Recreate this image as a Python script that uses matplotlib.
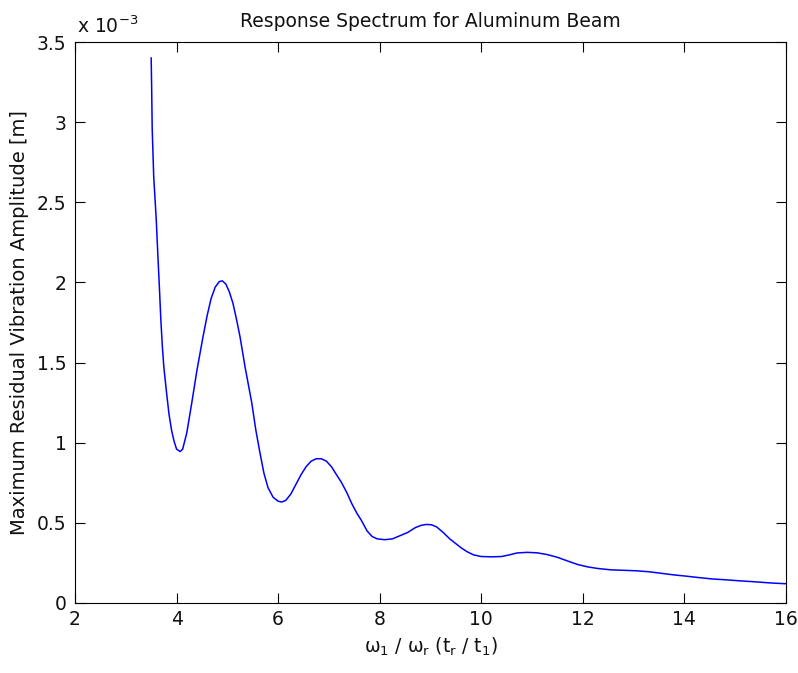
import matplotlib
matplotlib.use("Agg")
import matplotlib.pyplot as plt

# frequency ratio (x) and max residual amplitude in units of 1e-3 m (y)
freq_ratio = [3.50, 3.51, 3.52, 3.55, 3.58, 3.60, 3.63, 3.66, 3.69, 3.72, 3.75, 3.80, 3.85, 3.90,
              3.95, 4.00, 4.07, 4.12, 4.20, 4.30, 4.40, 4.52, 4.60, 4.68, 4.76, 4.84, 4.90, 4.97,
              5.04, 5.11, 5.18, 5.25, 5.35, 5.48, 5.56, 5.64, 5.72, 5.80, 5.90, 6.00, 6.07, 6.15,
              6.25, 6.35, 6.45, 6.55, 6.65, 6.75, 6.85, 6.95, 7.05, 7.15, 7.25, 7.35, 7.45, 7.55,
              7.64, 7.75, 7.85, 7.95, 8.10, 8.25, 8.40, 8.55, 8.70, 8.82, 8.92, 9.02, 9.12, 9.25,
              9.38, 9.50, 9.60, 9.72, 9.85, 10.00, 10.20, 10.40, 10.55, 10.70, 10.90, 11.10, 11.30,
              11.50, 11.70, 11.90, 12.10, 12.30, 12.55, 12.80, 13.05, 13.30, 13.55, 13.80, 14.05,
              14.30, 14.55, 14.80, 15.10, 15.40, 15.70, 16.00]
amplitude_e3 = [3.40, 3.20, 2.96, 2.66, 2.50, 2.39, 2.18, 1.98, 1.77, 1.60, 1.47, 1.32, 1.18, 1.08,
                1.01, 0.96, 0.945, 0.96, 1.06, 1.25, 1.45, 1.66, 1.79, 1.90, 1.97, 2.005, 2.01, 1.99,
                1.94, 1.87, 1.77, 1.66, 1.47, 1.25, 1.08, 0.94, 0.81, 0.72, 0.66, 0.635, 0.63, 0.64,
                0.68, 0.74, 0.80, 0.85, 0.885, 0.90, 0.90, 0.885, 0.85, 0.80, 0.75, 0.69, 0.62, 0.56,
                0.515, 0.45, 0.415, 0.40, 0.395, 0.40, 0.42, 0.44, 0.47, 0.485, 0.49, 0.488, 0.475, 0.44,
                0.40, 0.37, 0.345, 0.32, 0.30, 0.29, 0.288, 0.29, 0.30, 0.312, 0.316, 0.313, 0.302,
                0.285, 0.262, 0.24, 0.225, 0.215, 0.207, 0.204, 0.201, 0.195, 0.185, 0.175, 0.167,
                0.158, 0.150, 0.145, 0.138, 0.132, 0.125, 0.12]

x_ticks = [2, 4, 6, 8, 10, 12, 14, 16]
y_ticks = [0, 0.5, 1, 1.5, 2, 2.5, 3, 3.5]
y_tick_labels = ["0", "0.5", "1", "1.5", "2", "2.5", "3", "3.5"]

plt.rcParams['font.family'] = ['DejaVu Sans']
fs = 13.5

fig = plt.figure(figsize=(7.98, 6.73), dpi=100)
ax = fig.add_axes([75 / 798, 70 / 673, 711 / 798, 561 / 673])

ax.plot(freq_ratio, amplitude_e3, color=(0, 0, 1), lw=1.1)

ax.set_xlim(2, 16)
ax.set_ylim(0, 3.5)
ax.set_xticks(x_ticks)
ax.set_xticklabels([str(v) for v in x_ticks])
ax.set_yticks(y_ticks)
ax.set_yticklabels(y_tick_labels)

ax.tick_params(direction='in', length=7, width=0.8, top=True, right=True,
               labelsize=fs, color='black', labelcolor='#111111')
ax.tick_params(axis='y', pad=6)
ax.tick_params(axis='x', pad=5)
for s in ax.spines.values():
    s.set_linewidth(0.8)
    s.set_color('black')

ax.set_title("Response Spectrum for Aluminum Beam", fontsize=fs, pad=11, color='#111111')
ax.set_xlabel("ω$_1$ / ω$_\\mathrm{r}$ (t$_\\mathrm{r}$ / t$_1$)", fontsize=fs, labelpad=5,
              color='#111111')
ax.set_ylabel("Maximum Residual Vibration Amplitude [m]", fontsize=14, labelpad=6,
              color='#111111')

fig.text(77 / 798, 1 - 33 / 673, "x 10$^{\\mathrm{-3}}$", fontsize=fs, ha='left', va='baseline',
         color='#111111')

fig.savefig("out.png", dpi=100, facecolor='white')
